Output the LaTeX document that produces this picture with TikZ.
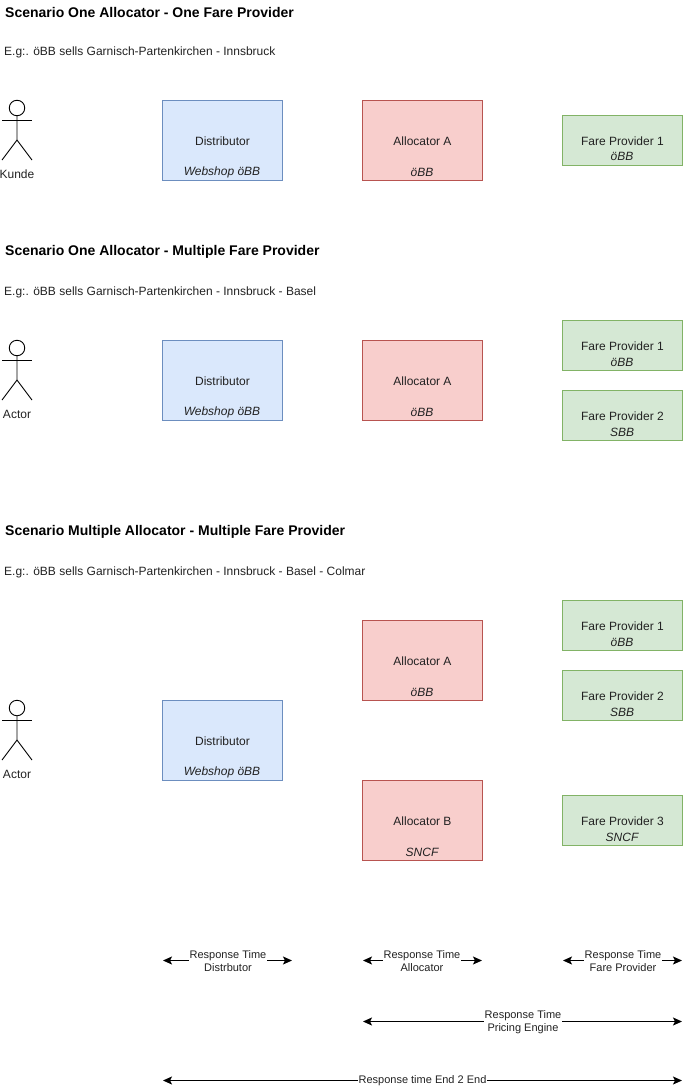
\documentclass[tikz,border=0pt]{standalone}
\usepackage{fontspec}
\setmainfont{Liberation Sans}
\usetikzlibrary{arrows.meta}
\definecolor{txt}{HTML}{222222}
\definecolor{bluefill}{HTML}{DAE8FC}\definecolor{bluedraw}{HTML}{6C8EBF}
\definecolor{redfill}{HTML}{F8CECC}\definecolor{reddraw}{HTML}{B85450}
\definecolor{greenfill}{HTML}{D5E8D4}\definecolor{greendraw}{HTML}{82B366}
\newcommand{\sublab}[1]{{\itshape #1}}
\tikzset{
  x=1pt,y=-1pt,
  every node/.style={font=\fontsize{12}{14}\selectfont,text=txt},
  boxshape/.style={draw,line width=0.8pt,minimum width=120pt,inner sep=0pt,anchor=center},
  bigbox/.style={boxshape,minimum height=80pt},
  smallbox/.style={boxshape,minimum height=50pt},
  dist/.style={bigbox,fill=bluefill,draw=bluedraw},
  alloc/.style={bigbox,fill=redfill,draw=reddraw},
  fare/.style={smallbox,fill=greenfill,draw=greendraw},
  heading/.style={anchor=west,inner sep=0pt,yshift=-1.1pt,font=\fontsize{14}{16}\selectfont\bfseries,text=black},
  eg/.style={anchor=west,inner sep=0pt,yshift=-1.4pt},
  biglabel/.style={inner sep=0pt,yshift=-0.7pt},
  sublabel/.style={inner sep=0pt},
  actorline/.style={draw=black,line width=0.9pt},
  spanline/.style={draw=black,line width=1pt,{Stealth[length=9pt,width=8pt,inset=2pt]}-{Stealth[length=9pt,width=8pt,inset=2pt]}},
  spanlabel/.style={fill=white,inner sep=0.5pt,yshift=-0.4pt,align=center,font=\fontsize{11}{13}\selectfont}
}
\newcommand{\actor}[4]{% name, x, y(top), label
  \node[actorline,circle,minimum size=15.5pt,inner sep=0pt] (#1head) at (#2,#3+8) {};
  \coordinate (#1hip) at (#2,#3+40);
  \coordinate (#1al) at (#2-15,#3+20);
  \coordinate (#1ar) at (#2+15,#3+20);
  \coordinate (#1ll) at (#2-15,#3+60);
  \coordinate (#1lr) at (#2+15,#3+60);
  \draw[actorline] (#1head.south) -- (#1hip) -- (#1ll);
  \draw[actorline] (#1hip) -- (#1lr);
  \draw[actorline] (#1al) -- (#1ar);
  \node[biglabel] (#1lab) at (#2,#3+73.5) {#4};
}
\newcommand{\boxlabel}[5]{% name, style, center x, center y, text
  \node[#2] (#1) at (#3,#4) {};
  \node[biglabel] (#1t) at (#3,#4) {#5};
}
\newcommand{\rspan}[6]{% name x1 x2 y labelx label
  \coordinate (#1a) at (#2,#4);
  \coordinate (#1b) at (#3,#4);
  \draw[spanline] (#1a) -- (#1b);
  \node[spanlabel] (#1l) at (#5,#4) {#6};
}
\begin{document}
\begin{tikzpicture}
\useasboundingbox (0,0) rectangle (692,1090);
% scenario 1
\node[heading] (h1) at (5,11) {Scenario One Allocator - One Fare Provider};
\node[eg] (e1) at (4,51) {E.g:. öBB sells Garnisch-Partenkirchen - Innsbruck};
\actor{aa}{17}{100}{Kunde}
\boxlabel{d1}{dist}{222.5}{140.5}{Distributor}
\node[sublabel] (d1s) at (222,172) {\sublab{Webshop öBB}};
\boxlabel{a1}{alloc}{422.5}{140.5}{Allocator A}
\node[sublabel] (a1s) at (422,172) {\sublab{öBB}};
\boxlabel{f1}{fare}{622.5}{140.5}{Fare Provider 1}
\node[sublabel] (f1s) at (622,156.5) {\sublab{öBB}};
% scenario 2
\node[heading] (h2) at (5,251) {Scenario One Allocator - Multiple Fare Provider};
\node[eg] (e2) at (4,291) {E.g:. öBB sells Garnisch-Partenkirchen - Innsbruck - Basel};
\actor{ab}{17}{340}{Actor}
\boxlabel{d2}{dist}{222.5}{380.5}{Distributor}
\node[sublabel] (d2s) at (222,412) {\sublab{Webshop öBB}};
\boxlabel{a2}{alloc}{422.5}{380.5}{Allocator A}
\node[sublabel] (a2s) at (422,412) {\sublab{öBB}};
\boxlabel{f2}{fare}{622.5}{345.5}{Fare Provider 1}
\node[sublabel] (f2s) at (622,362) {\sublab{öBB}};
\boxlabel{f3}{fare}{622.5}{415.5}{Fare Provider 2}
\node[sublabel] (f3s) at (622,432) {\sublab{SBB}};
% scenario 3
\node[heading] (h3) at (5,531) {Scenario Multiple Allocator - Multiple Fare Provider};
\node[eg] (e3) at (4,571) {E.g:. öBB sells Garnisch-Partenkirchen - Innsbruck - Basel - Colmar};
\actor{ac}{17}{700}{Actor}
\boxlabel{d3}{dist}{222.5}{740.5}{Distributor}
\node[sublabel] (d3s) at (222,772) {\sublab{Webshop öBB}};
\boxlabel{a3}{alloc}{422.5}{660.5}{Allocator A}
\node[sublabel] (a3s) at (422,692) {\sublab{öBB}};
\boxlabel{a4}{alloc}{422.5}{820.5}{Allocator B}
\node[sublabel] (a4s) at (422,852) {\sublab{SNCF}};
\boxlabel{f4}{fare}{622.5}{625.5}{Fare Provider 1}
\node[sublabel] (f4s) at (622,642) {\sublab{öBB}};
\boxlabel{f5}{fare}{622.5}{695.5}{Fare Provider 2}
\node[sublabel] (f5s) at (622,712) {\sublab{SBB}};
\boxlabel{f6}{fare}{622.5}{820.5}{Fare Provider 3}
\node[sublabel] (f6s) at (622,837) {\sublab{SNCF}};
% response times
\rspan{r1}{163}{292}{960.5}{228}{Response Time\\Distrbutor}
\rspan{r2}{363}{482}{960.5}{422}{Response Time\\Allocator}
\rspan{r3}{563}{682}{960.5}{623}{Response Time\\Fare Provider}
\rspan{r4}{363}{682}{1021.5}{523}{Response Time\\Pricing Engine}
\rspan{r5}{163}{682}{1080.5}{422.5}{Response time End 2 End}
\end{tikzpicture}
\end{document}
